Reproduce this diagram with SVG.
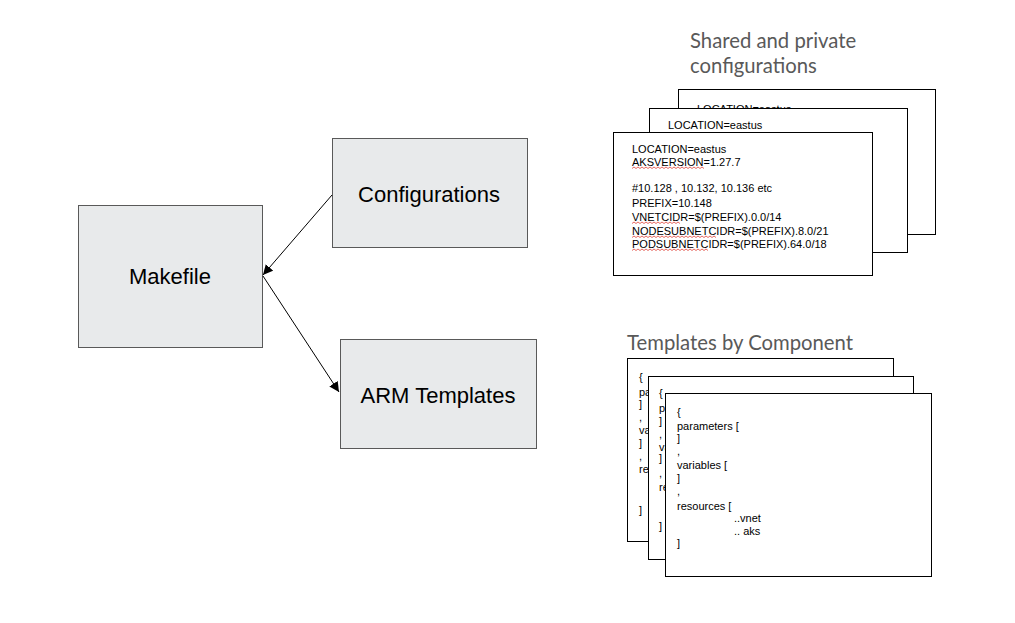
<svg xmlns="http://www.w3.org/2000/svg" width="1015" height="623" viewBox="0 0 1015 623">
<style>
.box{fill:#e8eaeb;stroke:#595959;stroke-width:1}
.lbl{font-family:"Liberation Sans",Arial,sans-serif;font-size:22px;fill:#000;text-anchor:middle}
.card{fill:#fff;stroke:#000;stroke-width:1}
.code{font-family:"Liberation Sans",Arial,sans-serif;font-size:11px;fill:#000}
.title{font-family:Lato,"Open Sans",sans-serif;font-size:20.3px;fill:#595959}
.sq{fill:none;stroke:#e0443a;stroke-width:0.8}
.conn{stroke:#000;stroke-width:1;fill:none}
</style>
<defs>
<marker id="arr" viewBox="0 0 10 10" refX="10" refY="5" markerWidth="10" markerHeight="10" markerUnits="userSpaceOnUse" orient="auto">
<path d="M0,0 L10,5 L0,10 z" fill="#000"/>
</marker>
</defs>
<rect width="1015" height="623" fill="#fff"/>

<g id="makefile">
<rect class="box" x="78.5" y="205.5" width="184" height="142"/>
<text class="lbl" x="170" y="284">Makefile</text>
</g>
<g id="configurations">
<rect class="box" x="332.5" y="138.5" width="195" height="109"/>
<text class="lbl" x="429" y="202">Configurations</text>
</g>
<g id="arm-templates">
<rect class="box" x="340.5" y="339.5" width="196" height="109"/>
<text class="lbl" x="438" y="403">ARM Templates</text>
</g>

<g id="connectors">
<line class="conn" x1="332" y1="195" x2="263" y2="275" marker-end="url(#arr)"/>
<line class="conn" x1="263" y1="276" x2="339" y2="392" marker-end="url(#arr)"/>
</g>

<g id="config-title">
<text class="title" x="690" y="48">Shared and private</text>
<text class="title" x="690" y="73">configurations</text>
</g>

<g id="config-cards">
<rect class="card" x="678.5" y="89.5" width="257" height="145"/>
<text class="code" x="697" y="113">LOCATION=eastus</text>
<rect class="card" x="649.5" y="108.5" width="258" height="144"/>
<text class="code" x="668" y="129">LOCATION=eastus</text>
<rect class="card" x="613.5" y="132.5" width="259" height="143"/>
<text class="code" x="632" y="153">LOCATION=eastus</text>
<text class="code" x="632" y="166">AKSVERSION=1.27.7</text>
<text class="code" x="632" y="192">#10.128 , 10.132, 10.136 etc</text>
<text class="code" x="632" y="207">PREFIX=10.148</text>
<text class="code" x="632" y="221">VNETCIDR=$(PREFIX).0.0/14</text>
<text class="code" x="632" y="235">NODESUBNETCIDR=$(PREFIX).8.0/21</text>
<text class="code" x="632" y="248">PODSUBNETCIDR=$(PREFIX).64.0/18</text>
<path class="sq" d="M632,168.5 l2,-1.5 l2,1.5 l2,-1.5 l2,1.5 l2,-1.5 l2,1.5 l2,-1.5 l2,1.5 l2,-1.5 l2,1.5 l2,-1.5 l2,1.5 l2,-1.5 l2,1.5 l2,-1.5 l2,1.5 l2,-1.5 l2,1.5 l2,-1.5 l2,1.5 l2,-1.5 l2,1.5 l2,-1.5 l2,1.5 l2,-1.5 l2,1.5 l2,-1.5 l2,1.5 l2,-1.5 l2,1.5 l2,-1.5 l2,1.5 l2,-1.5 l2,1.5 l2,-1.5 l2,1.5"/>
<path class="sq" d="M632,223.5 l2,-1.5 l2,1.5 l2,-1.5 l2,1.5 l2,-1.5 l2,1.5 l2,-1.5 l2,1.5 l2,-1.5 l2,1.5 l2,-1.5 l2,1.5 l2,-1.5 l2,1.5 l2,-1.5 l2,1.5 l2,-1.5 l2,1.5 l2,-1.5 l2,1.5 l2,-1.5 l2,1.5 l2,-1.5 l2,1.5"/>
<path class="sq" d="M632,237.5 l2,-1.5 l2,1.5 l2,-1.5 l2,1.5 l2,-1.5 l2,1.5 l2,-1.5 l2,1.5 l2,-1.5 l2,1.5 l2,-1.5 l2,1.5 l2,-1.5 l2,1.5 l2,-1.5 l2,1.5 l2,-1.5 l2,1.5 l2,-1.5 l2,1.5 l2,-1.5 l2,1.5 l2,-1.5 l2,1.5 l2,-1.5 l2,1.5 l2,-1.5 l2,1.5 l2,-1.5 l2,1.5 l2,-1.5 l2,1.5 l2,-1.5 l2,1.5 l2,-1.5 l2,1.5 l2,-1.5 l2,1.5 l2,-1.5 l2,1.5 l2,-1.5 l2,1.5"/>
<path class="sq" d="M632,250.5 l2,-1.5 l2,1.5 l2,-1.5 l2,1.5 l2,-1.5 l2,1.5 l2,-1.5 l2,1.5 l2,-1.5 l2,1.5 l2,-1.5 l2,1.5 l2,-1.5 l2,1.5 l2,-1.5 l2,1.5 l2,-1.5 l2,1.5 l2,-1.5 l2,1.5 l2,-1.5 l2,1.5 l2,-1.5 l2,1.5 l2,-1.5 l2,1.5 l2,-1.5 l2,1.5 l2,-1.5 l2,1.5 l2,-1.5 l2,1.5 l2,-1.5 l2,1.5 l2,-1.5 l2,1.5 l2,-1.5 l2,1.5"/>
</g>

<g id="templates-title">
<text class="title" x="627" y="350">Templates by Component</text>
</g>

<g id="template-cards">
<rect class="card" x="627.5" y="358.5" width="266" height="183"/>
<text class="code" x="639" y="381">{</text>
<text class="code" x="639" y="396">parameters [</text>
<text class="code" x="639" y="408">]</text>
<text class="code" x="639" y="421">,</text>
<text class="code" x="639" y="434">variables [</text>
<text class="code" x="639" y="447">]</text>
<text class="code" x="639" y="460">,</text>
<text class="code" x="639" y="473">resources [</text>
<text class="code" x="639" y="514">]</text>
<rect class="card" x="648.5" y="376.5" width="265" height="183"/>
<text class="code" x="659" y="397">{</text>
<text class="code" x="659" y="412">parameters [</text>
<text class="code" x="659" y="425">]</text>
<text class="code" x="659" y="438">,</text>
<text class="code" x="659" y="451">variables [</text>
<text class="code" x="659" y="462">]</text>
<text class="code" x="659" y="477">,</text>
<text class="code" x="659" y="491">resources [</text>
<text class="code" x="659" y="530">]</text>
<rect class="card" x="665.5" y="393.5" width="266" height="183"/>
<text class="code" x="677" y="416">{</text>
<text class="code" x="677" y="430">parameters [</text>
<text class="code" x="677" y="442">]</text>
<text class="code" x="677" y="455">,</text>
<text class="code" x="677" y="469">variables [</text>
<text class="code" x="677" y="482">]</text>
<text class="code" x="677" y="495">,</text>
<text class="code" x="677" y="510">resources [</text>
<text class="code" x="734" y="522">..vnet</text>
<text class="code" x="734" y="535">.. aks</text>
<text class="code" x="677" y="547">]</text>
</g>
</svg>
